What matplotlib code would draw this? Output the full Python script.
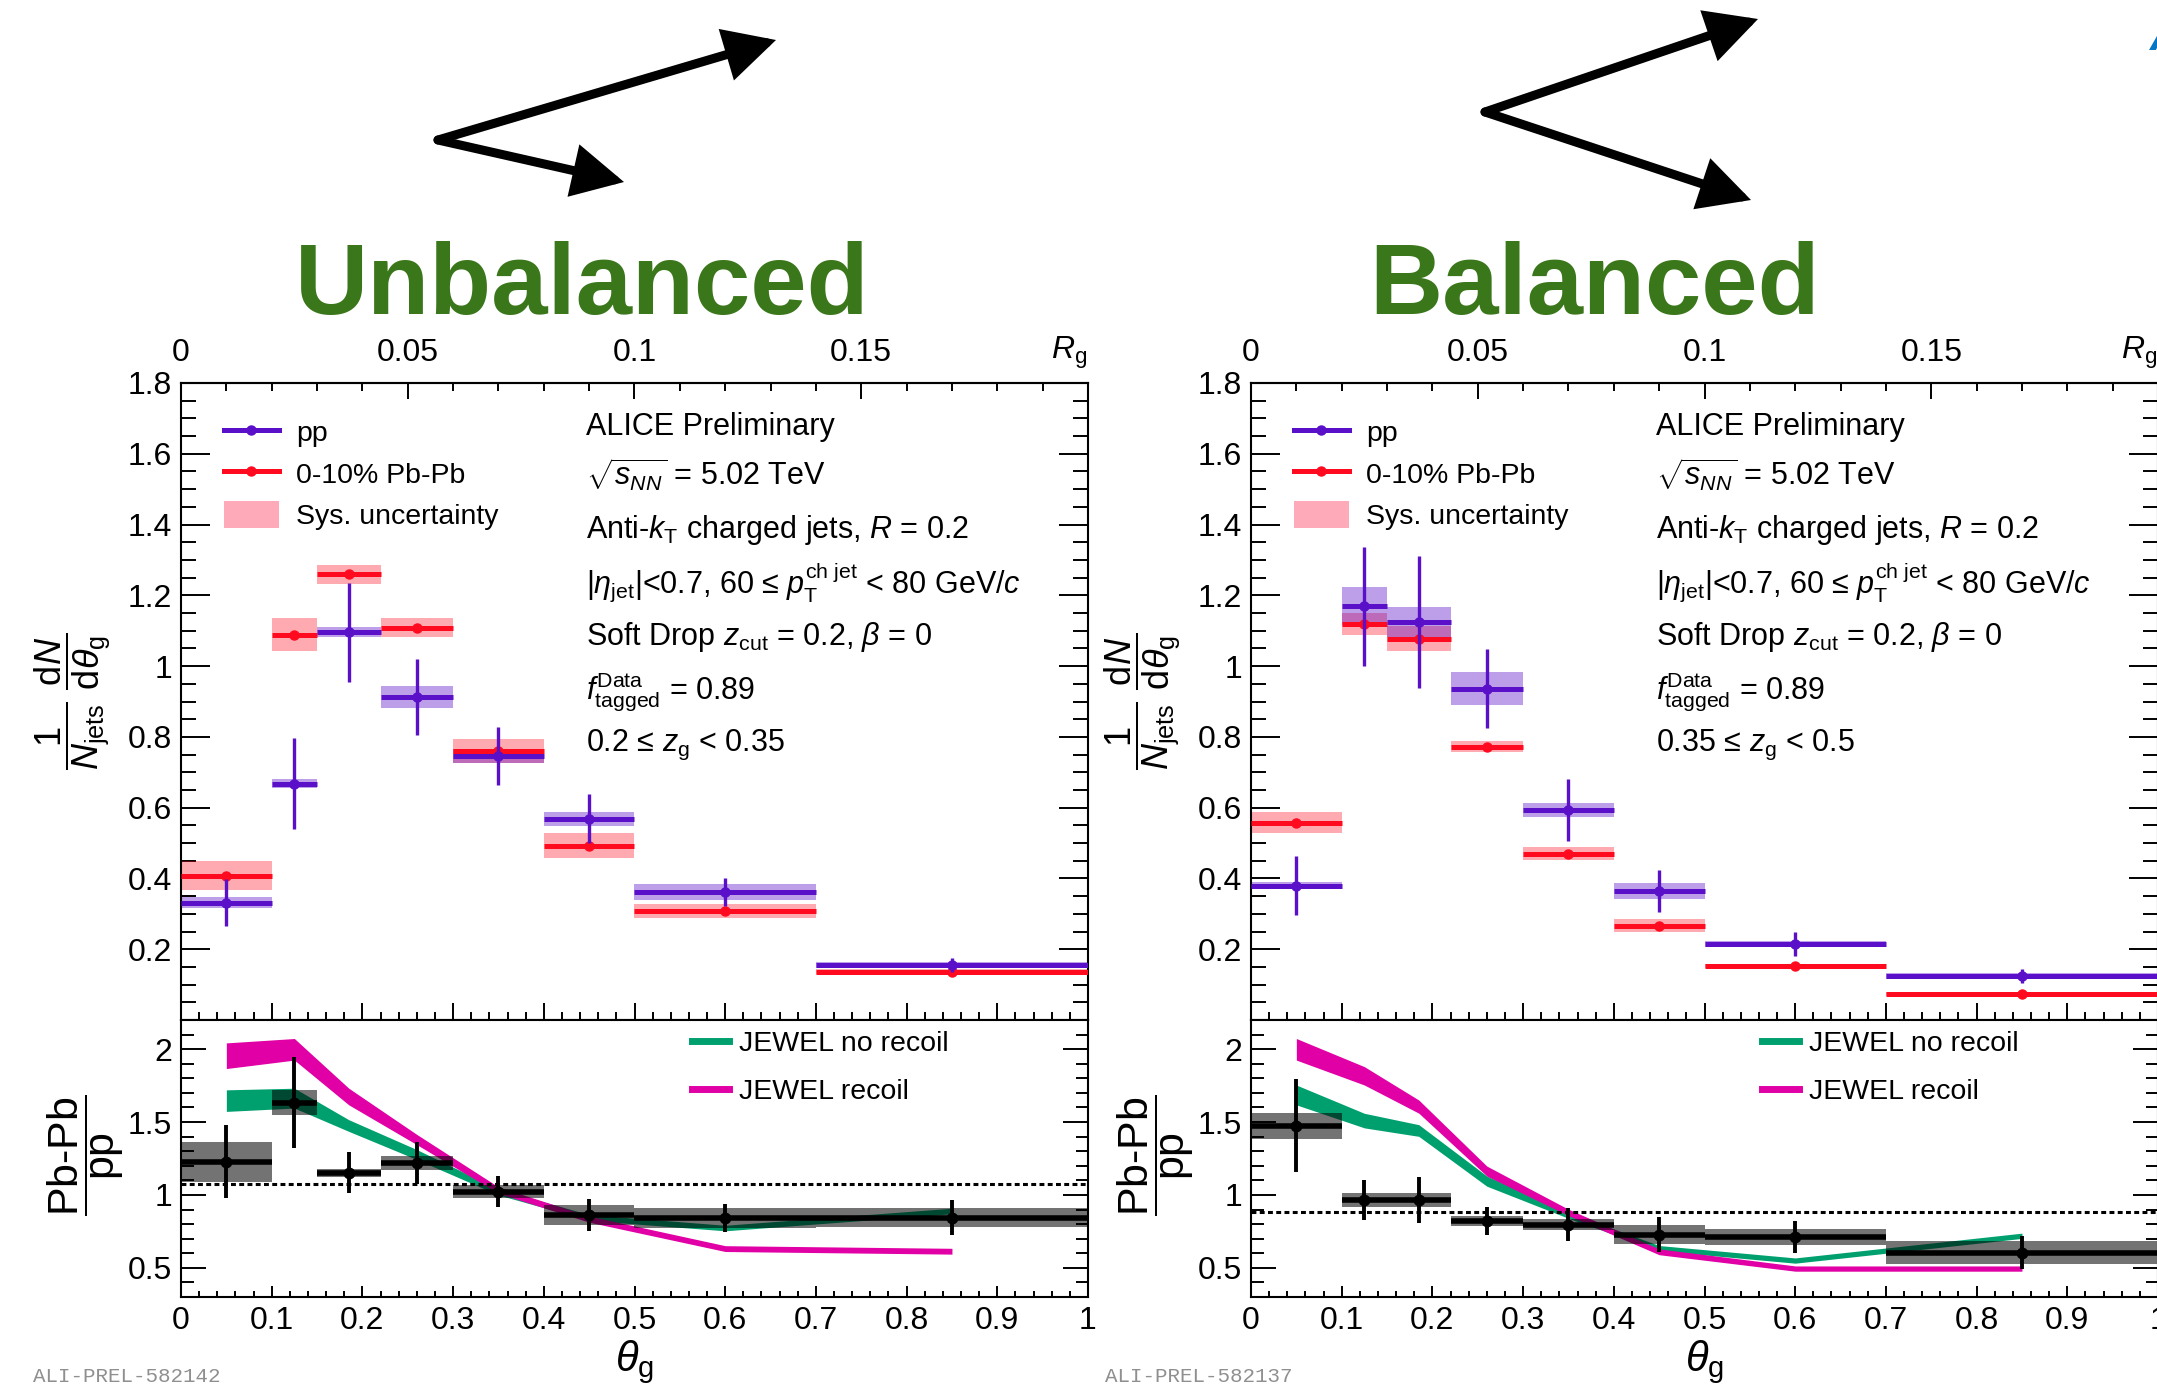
import numpy as np
import matplotlib
matplotlib.use("Agg")
import matplotlib.pyplot as plt
from matplotlib.lines import Line2D
from matplotlib.patches import Patch, FancyArrowPatch, ArrowStyle
from matplotlib.ticker import MultipleLocator, FuncFormatter

plt.rcParams['font.family'] = ['Liberation Sans', 'DejaVu Sans']
plt.rcParams['mathtext.fontset'] = 'custom'
plt.rcParams['mathtext.rm'] = 'Liberation Sans'
plt.rcParams['mathtext.it'] = 'Liberation Sans:italic'
plt.rcParams['mathtext.bf'] = 'Liberation Sans:bold'
plt.rcParams['mathtext.sf'] = 'Liberation Sans'

# ---------------- data ----------------
jet_R = 0.2
theta_edges = [0.0, 0.1, 0.15, 0.22, 0.3, 0.4, 0.5, 0.7, 1.0]

# unbalanced splittings, 0.2 <= zg < 0.35
pp_unbal = [0.332, 0.668, 1.096, 0.913, 0.747, 0.569, 0.361, 0.156]
pp_unbal_stat = [0.067, 0.128, 0.140, 0.107, 0.082, 0.069, 0.040, 0.020]
pp_unbal_sys = [0.015, 0.012, 0.015, 0.030, 0.020, 0.020, 0.022, 0.008]
pbpb_unbal = [0.408, 1.089, 1.259, 1.109, 0.760, 0.493, 0.307, 0.137]
pbpb_unbal_stat = [0.006, 0.008, 0.008, 0.007, 0.006, 0.006, 0.005, 0.004]
pbpb_unbal_sys = [0.041, 0.047, 0.028, 0.028, 0.034, 0.036, 0.020, 0.008]
ratio_unbal = [1.227, 1.634, 1.152, 1.220, 1.023, 0.862, 0.843, 0.843]
ratio_unbal_stat = [0.250, 0.310, 0.142, 0.142, 0.107, 0.107, 0.095, 0.120]
ratio_unbal_sys = [0.139, 0.084, 0.028, 0.048, 0.045, 0.068, 0.070, 0.066]
jewel_recoil_unbal = [1.955, 1.999, 1.675, 1.380, 1.033, 0.834, 0.632, 0.614]
jewel_recoil_unbal_err = [0.088, 0.074, 0.057, 0.035, 0.022, 0.021, 0.020, 0.020]
jewel_norecoil_unbal = [1.647, 1.664, 1.476, 1.277, 1.020, 0.845, 0.773, 0.890]
jewel_norecoil_unbal_err = [0.074, 0.068, 0.040, 0.034, 0.020, 0.020, 0.019, 0.019]
ftag_ratio_unbal = 1.073

# balanced splittings, 0.35 <= zg < 0.5
pp_bal = [0.380, 1.169, 1.125, 0.936, 0.594, 0.364, 0.215, 0.125]
pp_bal_stat = [0.083, 0.168, 0.186, 0.112, 0.087, 0.060, 0.033, 0.020]
pp_bal_sys = [0.010, 0.054, 0.043, 0.046, 0.020, 0.022, 0.008, 0.008]
pbpb_bal = [0.558, 1.120, 1.078, 0.772, 0.470, 0.267, 0.152, 0.074]
pbpb_bal_stat = [0.006, 0.008, 0.008, 0.007, 0.006, 0.005, 0.004, 0.004]
pbpb_bal_sys = [0.030, 0.031, 0.036, 0.016, 0.018, 0.017, 0.006, 0.005]
ratio_bal = [1.475, 0.964, 0.964, 0.823, 0.795, 0.728, 0.712, 0.605]
ratio_bal_stat = [0.320, 0.136, 0.157, 0.095, 0.114, 0.122, 0.110, 0.110]
ratio_bal_sys = [0.090, 0.048, 0.048, 0.036, 0.037, 0.065, 0.055, 0.077]
jewel_recoil_bal = [1.999, 1.817, 1.606, 1.164, 0.880, 0.610, 0.495, 0.495]
jewel_recoil_bal_err = [0.074, 0.063, 0.045, 0.034, 0.022, 0.020, 0.018, 0.018]
jewel_norecoil_bal = [1.686, 1.510, 1.442, 1.095, 0.860, 0.635, 0.550, 0.720]
jewel_norecoil_bal_err = [0.068, 0.050, 0.040, 0.035, 0.020, 0.018, 0.018, 0.018]
ftag_ratio_bal = 0.884

info_lines = [
    "ALICE Preliminary",
    r"$\sqrt{s_{NN}}$ = 5.02 TeV",
    r"Anti-$k_{\mathrm{T}}$ charged jets, $R$ = 0.2",
    r"$|\eta_{\mathrm{jet}}|$<0.7, 60 ≤ $p_{\mathrm{T}}^{\mathrm{ch\ jet}}$ < 80 GeV/$c$",
    r"Soft Drop $z_{\mathrm{cut}}$ = 0.2, $\beta$ = 0",
    r"$f_{\mathrm{tagged}}^{\mathrm{Data}}$ = 0.89",
]
zg_unbal_label = r"0.2 ≤ $z_{\mathrm{g}}$ < 0.35"
zg_bal_label = r"0.35 ≤ $z_{\mathrm{g}}$ < 0.5"

# ---------------- style ----------------
C_PP = '#5a0fc8'
C_PB = '#ff0a1e'
C_NOREC = '#00a06e'
C_REC = '#e100a5'
C_TITLE = '#3a761a'
TICK_FS = 23
TEXT_FS = 22
LEG_FS = 20.5

W, H = 2157, 1389
fig = plt.figure(figsize=(W / 100, H / 100), dpi=100)


def fx(px):
    return px / W


def fy(py):
    return 1 - py / H


edges = np.array(theta_edges)
centers = 0.5 * (edges[:-1] + edges[1:])
widths = np.diff(edges)
fmt = FuncFormatter(lambda v, p: f'{v:g}')
fmt_no0 = FuncFormatter(lambda v, p: '' if abs(v) < 1e-9 else f'{v:g}')


def draw_boxes(ax, y, sys, box_color, box_alpha):
    y = np.asarray(y)
    sys = np.asarray(sys)
    ax.bar(centers, 2 * sys, bottom=y - sys, width=widths, color=box_color,
           alpha=box_alpha, linewidth=0, zorder=2)


def draw_lines(ax, y, stat, color, hlw, vlw, ms, z):
    y = np.asarray(y)
    stat = np.asarray(stat)
    ax.hlines(y, edges[:-1], edges[1:], colors=color, lw=hlw, zorder=z)
    ax.vlines(centers, y - stat, y + stat, colors=color, lw=vlw, zorder=z)
    ax.plot(centers, y, 'o', color=color, ms=ms, zorder=z + 0.1)


def make_panel(x0, pp, pp_stat, pp_sys, pb, pb_stat, pb_sys, rat, rat_stat,
               rat_sys, rec, rec_err, norec, norec_err, ftag, zg_label):
    axw = 907 / W
    ax = fig.add_axes([x0, fy(1020), axw, (1020 - 383) / H])
    axr = fig.add_axes([x0, fy(1297), axw, (1297 - 1020) / H], sharex=ax)

    # ---- distributions ----
    draw_boxes(ax, pb, pb_sys, C_PB, 0.35)
    draw_boxes(ax, pp, pp_sys, C_PP, 0.40)
    draw_lines(ax, pb, pb_stat, C_PB, 3.6, 2.4, 6.5, 3)
    draw_lines(ax, pp, pp_stat, C_PP, 3.6, 2.4, 6.5, 4)

    ax.set_xlim(0, 1)
    ax.set_ylim(0, 1.8)
    ax.yaxis.set_major_locator(MultipleLocator(0.2))
    ax.yaxis.set_minor_locator(MultipleLocator(0.05))
    ax.yaxis.set_major_formatter(fmt_no0)
    ax.xaxis.set_major_locator(MultipleLocator(0.1))
    ax.xaxis.set_minor_locator(MultipleLocator(0.02))
    ax.tick_params(axis='y', which='major', direction='in', length=21, width=1.4,
                   right=True, labelsize=TICK_FS, pad=6.5)
    ax.tick_params(axis='y', which='minor', direction='in', length=10.5, width=1.4,
                   right=True)
    ax.tick_params(axis='x', which='major', direction='in', length=12, width=1.4,
                   top=False, labelbottom=False)
    ax.tick_params(axis='x', which='minor', direction='in', length=6, width=1.4,
                   top=False)

    sec = ax.secondary_xaxis('top', functions=(lambda t: t * jet_R,
                                               lambda r: r / jet_R))
    sec.set_xticks([0, 0.05, 0.1, 0.15, 0.2])
    sec.set_xticklabels(['0', '0.05', '0.1', '0.15', ''])
    sec.xaxis.set_minor_locator(MultipleLocator(0.01))
    sec.tick_params(which='major', direction='in', length=11.5, width=1.4,
                    labelsize=TICK_FS, pad=11)
    sec.tick_params(which='minor', direction='in', length=5.8, width=1.4)
    sec.spines['top'].set_linewidth(1.5)
    ax.text(0.979, 1.0 + 30 / 637, r'$R_{\mathrm{g}}$', transform=ax.transAxes,
            ha='center', va='center', fontsize=TICK_FS)

    ax.set_ylabel(r'$\dfrac{1}{N_{\mathrm{jets}}}\ \dfrac{\mathrm{d}N}{\mathrm{d}\theta_{\mathrm{g}}}$',
                  fontsize=26)
    ax.yaxis.label.set_va('center')
    ax.yaxis.set_label_coords(-0.12, 0.50)

    # info text block
    baselines = [0.918, 0.838, 0.757, 0.671, 0.589, 0.505, 0.423]
    for s, yb in zip(info_lines + [zg_label], baselines):
        ax.text(0.446, yb, s, transform=ax.transAxes, fontsize=TEXT_FS,
                ha='left', va='baseline')

    handles = [Line2D([], [], color=C_PP, lw=3.6, marker='o', ms=6.5),
               Line2D([], [], color=C_PB, lw=3.6, marker='o', ms=6.5),
               Patch(facecolor='#ffaab9', edgecolor='none')]
    ax.legend(handles, ['pp', '0-10% Pb-Pb', 'Sys. uncertainty'],
              loc='upper left', bbox_to_anchor=(0.047, 0.945), frameon=False,
              fontsize=LEG_FS, handlelength=1.95, handleheight=1.1,
              handletextpad=0.6, labelspacing=0.42, borderpad=0,
              borderaxespad=0)

    # ---- ratio ----
    r = np.asarray(rec)
    re = np.asarray(rec_err)
    n = np.asarray(norec)
    ne = np.asarray(norec_err)
    axr.fill_between(centers, n - ne, n + ne, color=C_NOREC, lw=0, zorder=1)
    axr.fill_between(centers, r - re, r + re, color=C_REC, lw=0, zorder=1.1)
    draw_boxes(axr, rat, rat_sys, 'k', 0.55)
    draw_lines(axr, rat, rat_stat, 'k', 4.0, 2.8, 7.5, 3)
    axr.axhline(ftag, color='k', lw=2.2, ls=(0, (1.6, 1.1)), zorder=2.5)

    axr.set_ylim(0.3, 2.2)
    axr.yaxis.set_major_locator(MultipleLocator(0.5))
    axr.yaxis.set_minor_locator(MultipleLocator(0.1))
    axr.yaxis.set_major_formatter(fmt)
    axr.xaxis.set_major_formatter(fmt)
    axr.tick_params(axis='y', which='major', direction='in', length=18, width=1.4,
                    right=True, labelsize=TICK_FS, pad=6.5)
    axr.tick_params(axis='y', which='minor', direction='in', length=9, width=1.4,
                    right=True)
    axr.tick_params(axis='x', which='major', direction='in', length=8, width=1.4,
                    top=False, labelbottom=True, labelsize=TICK_FS, pad=6.5)
    axr.tick_params(axis='x', which='minor', direction='in', length=4, width=1.4,
                    top=False)
    axr.set_ylabel(r'$\dfrac{\text{Pb-Pb}}{\text{pp}}$', fontsize=31)
    axr.yaxis.label.set_va('center')
    axr.yaxis.set_label_coords(-0.105, 0.51)
    axr.set_xlabel(r'$\theta_{\mathrm{g}}$', fontsize=30)
    axr.xaxis.label.set_va('center')
    axr.xaxis.set_label_coords(0.5, -0.235)

    jh = [Line2D([], [], color=C_NOREC, lw=5), Line2D([], [], color=C_REC, lw=5)]
    axr.legend(jh, ['JEWEL no recoil', 'JEWEL recoil'], loc='upper left',
               bbox_to_anchor=(0.563, 0.96), frameon=False, fontsize=LEG_FS,
               handlelength=1.3, handletextpad=0.35, labelspacing=0.78,
               borderpad=0, borderaxespad=0)

    for a in (ax, axr):
        for sp in a.spines.values():
            sp.set_linewidth(1.5)
    return ax, axr


make_panel(181 / W, pp_unbal, pp_unbal_stat, pp_unbal_sys, pbpb_unbal,
           pbpb_unbal_stat, pbpb_unbal_sys, ratio_unbal, ratio_unbal_stat,
           ratio_unbal_sys, jewel_recoil_unbal, jewel_recoil_unbal_err,
           jewel_norecoil_unbal, jewel_norecoil_unbal_err, ftag_ratio_unbal,
           zg_unbal_label)
make_panel(1251 / W, pp_bal, pp_bal_stat, pp_bal_sys, pbpb_bal,
           pbpb_bal_stat, pbpb_bal_sys, ratio_bal, ratio_bal_stat,
           ratio_bal_sys, jewel_recoil_bal, jewel_recoil_bal_err,
           jewel_norecoil_bal, jewel_norecoil_bal_err, ftag_ratio_bal,
           zg_bal_label)

# ---------------- headers with splitting sketches ----------------
fig.text(fx(582), fy(314), 'Unbalanced', ha='center', va='baseline',
         fontsize=73, fontweight='bold', color=C_TITLE)
fig.text(fx(1594), fy(314), 'Balanced', ha='center', va='baseline',
         fontsize=73, fontweight='bold', color=C_TITLE)

head = ArrowStyle('-|>', head_length=27, head_width=14)
for vertex, tip in [((438, 140), (776, 40)), ((438, 140), (624, 182)),
                    ((1485, 112), (1758, 19)), ((1485, 112), (1751, 200))]:
    arr = FancyArrowPatch((fx(vertex[0]), fy(vertex[1])), (fx(tip[0]), fy(tip[1])),
                          transform=fig.transFigure, arrowstyle=head,
                          mutation_scale=1, lw=6.5, color='black',
                          shrinkA=0, shrinkB=0, capstyle='round',
                          joinstyle='miter')
    fig.add_artist(arr)

fig.text(fx(2150), fy(50), 'A', ha='left', va='baseline', fontsize=34,
         fontweight='bold', fontstyle='italic', color='#0a76c2')

fig.text(fx(33), fy(1376), 'ALI-PREL-582142', family='Liberation Mono',
         fontsize=15, color='#8f8f8f', va='center', ha='left')
fig.text(fx(1105), fy(1376), 'ALI-PREL-582137', family='Liberation Mono',
         fontsize=15, color='#8f8f8f', va='center', ha='left')

fig.savefig('out.png', dpi=100)
